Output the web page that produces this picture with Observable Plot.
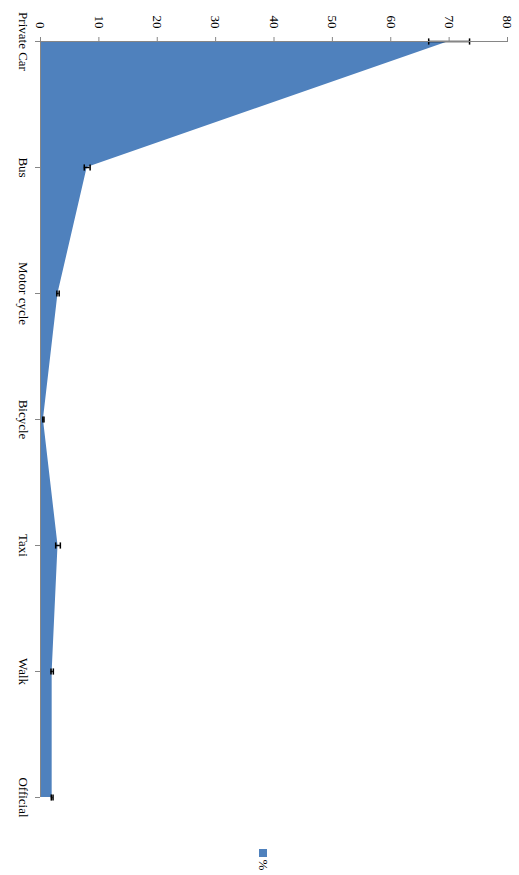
<!DOCTYPE html>
<html><head><meta charset="utf-8">
<script src="https://cdn.jsdelivr.net/npm/d3@7"></script>
<script src="https://cdn.jsdelivr.net/npm/@observablehq/plot@0.6"></script>
<style>
body{margin:0;background:#fff;font-family:"Liberation Serif",serif;}
#wrap{position:relative;width:519px;height:875px;}
#legend{position:absolute;left:0;top:835px;width:519px;height:40px;}
#legend .sw{position:absolute;left:259px;top:14px;width:8px;height:8px;background:#4F81BD;}
#legend .lb{position:absolute;left:257px;top:24px;width:12px;height:12px;font-size:13px;line-height:12px;text-align:center;transform:rotate(90deg);}
</style></head>
<body><div id="wrap"><div id="chart"></div><div id="legend"><div class="sw"></div><div class="lb">%</div></div></div>
<script>
const modes = ["Private Car","Bus","Motor cycle","Bicycle","Taxi","Walk","Official"];
const values = [70, 8, 3, 0.5, 3, 2, 2];
const errors = [3.5, 0.5, 0.2, 0.1, 0.4, 0.2, 0.15];
const xTicks = [0,10,20,30,40,50,60,70,80];
const seriesName = "%";

const data = modes.map((m,i)=>({mode:m, v:values[i], e:errors[i]}));
const blue = "#4F81BD", grey = "#868686";
const capSymbol = {draw(ctx, size){ const r = Math.sqrt(size) / 2; ctx.moveTo(0, -r); ctx.lineTo(0, r); }};
const font = '"Liberation Serif", "Times New Roman", serif';

const chart = Plot.plot({
  width: 519, height: 835,
  marginTop: 41, marginLeft: 40, marginRight: 12, marginBottom: 38,
  style: {fontFamily: font, fontSize: "13px", background: "#fff", color: "#000"},
  x: {domain: [0, 80], axis: null},
  y: {type: "point", domain: modes, padding: 0, axis: null},
  marks: [
    Plot.areaX(data, {y: "mode", x: "v", fill: blue}),
    Plot.ruleY(data, {y: "mode", x1: d => d.v - d.e, x2: d => d.v + d.e, stroke: "#000", strokeWidth: 1.5}),
    Plot.dot(data, {x: d => d.v - d.e, y: "mode", symbol: capSymbol, r: 3.5, fill: "none", stroke: "#000", strokeWidth: 1.5}),
    Plot.dot(data, {x: d => d.v + d.e, y: "mode", symbol: capSymbol, r: 3.5, fill: "none", stroke: "#000", strokeWidth: 1.5}),
    Plot.ruleX([0], {stroke: grey, strokeWidth: 1}),
    Plot.ruleY([modes[0]], {x1: 0, x2: 80, stroke: grey, strokeWidth: 1}),
    Plot.axisX({anchor: "top", ticks: xTicks, tickSize: 5, stroke: grey, text: null, label: null}),
    Plot.text(xTicks, {x: d => d, frameAnchor: "top", dx: 5, dy: -13, rotate: 90, textAnchor: "end", fill: "#000", fontSize: 13, fontFamily: font}),
    Plot.axisY({anchor: "left", ticks: modes, tickSize: 5, stroke: grey, text: null, label: null}),
    Plot.text(modes, {y: d => d, frameAnchor: "left", dx: -17, rotate: 90, textAnchor: "middle", fill: "#000", fontSize: 13, fontFamily: font})
  ]
});
document.getElementById("chart").appendChild(chart);
</script>
</body></html>
